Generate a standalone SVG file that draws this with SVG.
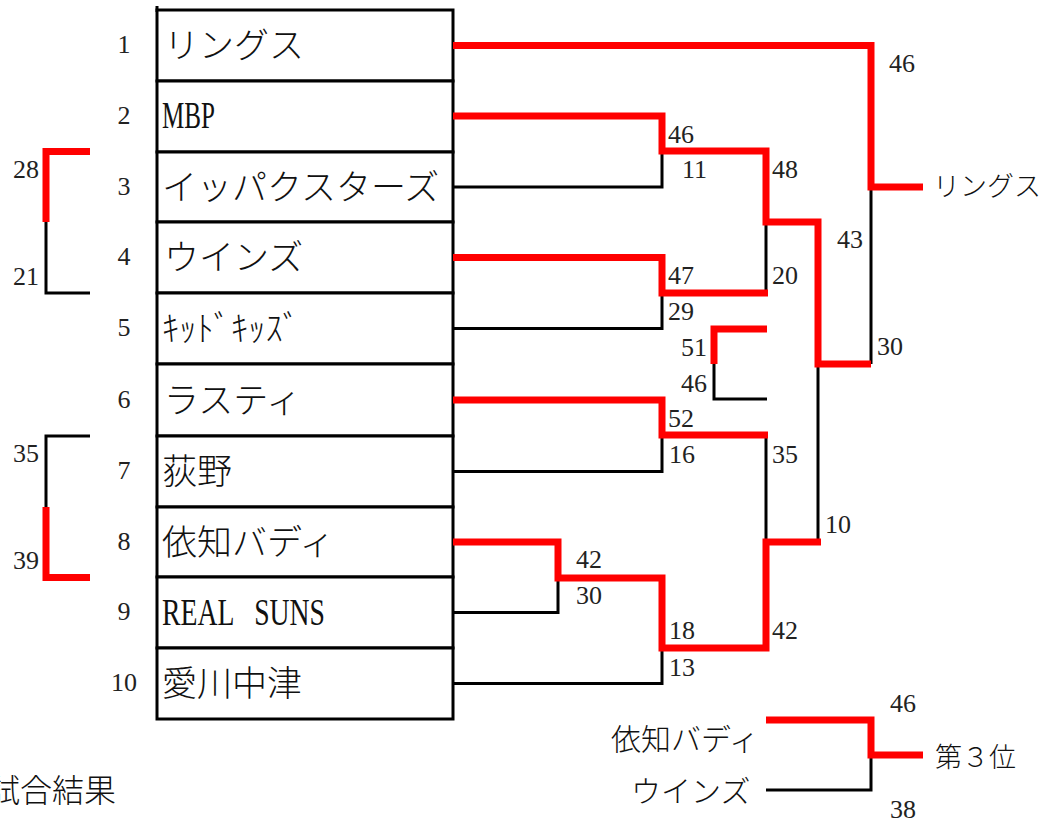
<svg xmlns="http://www.w3.org/2000/svg" width="1042" height="823" viewBox="0 0 1042 823">
<style>
.cell{fill:#fff;stroke:#000;stroke-width:3}
.num{font-family:"Liberation Serif",serif;font-size:26px;fill:#222}
.rn{font-family:"Liberation Serif",serif;font-size:26px;fill:#222;text-anchor:middle}
.jp{font-family:"Noto Sans CJK JP",sans-serif;font-size:35px;font-weight:300;fill:#111}
.lat{font-family:"Liberation Serif",serif;font-size:37px;fill:#111}
.jps{font-family:"Noto Sans CJK JP",sans-serif;font-size:27px;font-weight:300;fill:#111}
.blk{fill:none;stroke:#000;stroke-width:3}
.red{fill:none;stroke:#ff0000;stroke-width:7;stroke-linejoin:miter;stroke-linecap:butt}
</style>
<rect width="1042" height="823" fill="#fff"/>
<line x1="157" y1="6" x2="157" y2="12" stroke="#000" stroke-width="3"/>
<g id="team-1"><rect class="cell" x="157" y="10" width="296" height="71"/><text class="rn" x="124" y="53">1</text><text class="jp" x="164" y="58">リングス</text></g>
<g id="team-2"><rect class="cell" x="157" y="81" width="296" height="71"/><text class="rn" x="124" y="124">2</text><text class="lat" x="162" y="128" textLength="53" lengthAdjust="spacingAndGlyphs">MBP</text></g>
<g id="team-3"><rect class="cell" x="157" y="152" width="296" height="70"/><text class="rn" x="124" y="195">3</text><text class="jp" x="162" y="200">イッパクスターズ</text></g>
<g id="team-4"><rect class="cell" x="157" y="222" width="296" height="71"/><text class="rn" x="124" y="265">4</text><text class="jp" x="164" y="270">ウインズ</text></g>
<g id="team-5"><rect class="cell" x="157" y="293" width="296" height="71"/><text class="rn" x="124" y="336">5</text><text class="jp" x="162" y="341" textLength="138" lengthAdjust="spacingAndGlyphs">ｷｯﾄﾞｷｯｽﾞ</text></g>
<g id="team-6"><rect class="cell" x="157" y="364" width="296" height="72"/><text class="rn" x="124" y="408">6</text><text class="jp" x="164" y="413">ラスティ</text></g>
<g id="team-7"><rect class="cell" x="157" y="436" width="296" height="71"/><text class="rn" x="124" y="479">7</text><text class="jp" x="162" y="484">荻野</text></g>
<g id="team-8"><rect class="cell" x="157" y="507" width="296" height="70"/><text class="rn" x="124" y="550">8</text><text class="jp" x="162" y="555">依知バディ</text></g>
<g id="team-9"><rect class="cell" x="157" y="577" width="296" height="71"/><text class="rn" x="124" y="620">9</text><text class="lat" x="162" y="625" xml:space="preserve" textLength="163" lengthAdjust="spacingAndGlyphs">REAL   SUNS</text></g>
<g id="team-10"><rect class="cell" x="157" y="648" width="296" height="71"/><text class="rn" x="124" y="691">10</text><text class="jp" x="162" y="696">愛川中津</text></g>

<g id="connectors">
<path class="blk" d="M453,187 H662 V151"/>
<path class="blk" d="M453,328.5 H662 V293"/>
<path class="blk" d="M766,293 V222"/>
<path class="blk" d="M714,364 V399 H767"/>
<path class="blk" d="M453,471.5 H662 V435"/>
<path class="blk" d="M766,435 V542"/>
<path class="blk" d="M453,612.5 H558 V578"/>
<path class="blk" d="M453,683.5 H662 V648"/>
<path class="blk" d="M871,187 V364"/>
<path class="blk" d="M818,364 V542"/>
<path class="blk" d="M46,222 V293 H90"/>
<path class="blk" d="M90,436 H46 V507"/>
<path class="blk" d="M871,755 V790 H766"/>
<path class="red" d="M453,45.5 H871 V187 H923"/>
<path class="red" d="M453,116 H662 V151 H766 V222 H818 V364 H871"/>
<path class="red" d="M453,257.5 H662 V293 H768"/>
<path class="red" d="M767,329 H714 V364"/>
<path class="red" d="M453,400 H662 V435 H768"/>
<path class="red" d="M453,542 H558 V578 H662 V648 H766 V542 H821"/>
<path class="red" d="M90,151.5 H46 V222"/>
<path class="red" d="M46,507 V577.5 H90"/>
<path class="red" d="M766,720 H871 V755 H923"/>
</g>

<g id="scores">
<text class="num" x="13" y="178">28</text>
<text class="num" x="13" y="285">21</text>
<text class="num" x="13" y="462">35</text>
<text class="num" x="13" y="569">39</text>
<text class="num" x="668" y="143">46</text>
<text class="num" x="682" y="178">11</text>
<text class="num" x="772" y="178">48</text>
<text class="num" x="668" y="284">47</text>
<text class="num" x="772" y="284">20</text>
<text class="num" x="668" y="320">29</text>
<text class="num" x="681" y="356">51</text>
<text class="num" x="681" y="392">46</text>
<text class="num" x="668" y="427">52</text>
<text class="num" x="669" y="463">16</text>
<text class="num" x="772" y="463">35</text>
<text class="num" x="825" y="533">10</text>
<text class="num" x="576" y="568">42</text>
<text class="num" x="576" y="604">30</text>
<text class="num" x="669" y="639">18</text>
<text class="num" x="772" y="639">42</text>
<text class="num" x="669" y="676">13</text>
<text class="num" x="889" y="72">46</text>
<text class="num" x="837" y="248">43</text>
<text class="num" x="877" y="355">30</text>
<text class="num" x="890" y="712">46</text>
<text class="num" x="890" y="818">38</text>
</g>

<g id="winner"><text class="jps" x="933" y="196" font-size="26">リングス</text></g>
<g id="third-place">
<text class="jps" x="611" y="750" style="font-size:30px">依知バディ</text>
<text class="jps" x="631" y="802" style="font-size:30px">ウインズ</text>
<text class="jps" x="935" y="767">第３位</text>
</g>
<g id="caption"><text class="jps" x="-12" y="802" style="font-size:32px">試合結果</text></g>
</svg>
